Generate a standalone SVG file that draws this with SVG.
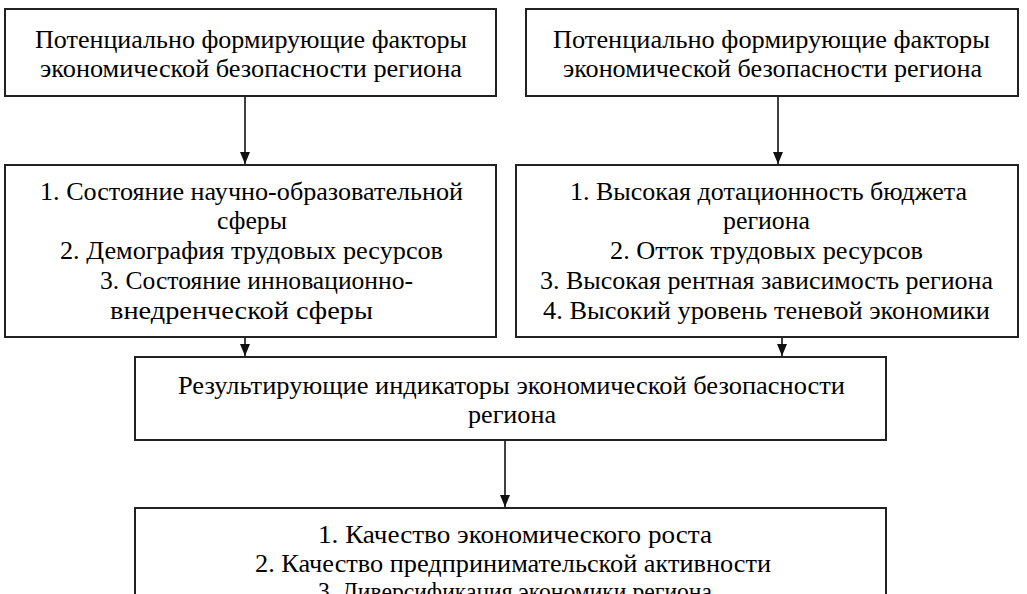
<svg xmlns="http://www.w3.org/2000/svg" width="1027" height="594" viewBox="0 0 1027 594">
<style>
.box{fill:#fff;stroke:#222;stroke-width:2}
.c{stroke:#111;stroke-width:1.6;fill:none}
</style>
<defs>
<marker id="ah" markerWidth="12" markerHeight="10" refX="12" refY="5" orient="auto" markerUnits="userSpaceOnUse" viewBox="0 0 12 10">
<path d="M0,0 L12,5 L0,10 Z" fill="#111"/>
</marker>
</defs>
<rect width="1027" height="594" fill="#fff"/>
<g id="n1">
<rect class="box" x="5" y="9" width="491" height="87"/>
<text font-family="Liberation Serif" font-size="25" x="35" y="48" textLength="432" lengthAdjust="spacingAndGlyphs">Потенциально формирующие факторы</text>
<text font-family="Liberation Serif" font-size="25" x="40" y="77" textLength="422" lengthAdjust="spacingAndGlyphs">экономической безопасности региона</text>
</g>
<g id="n2">
<rect class="box" x="526" y="9" width="492" height="87"/>
<text font-family="Liberation Serif" font-size="25" x="553" y="48" textLength="437" lengthAdjust="spacingAndGlyphs">Потенциально формирующие факторы</text>
<text font-family="Liberation Serif" font-size="25" x="563" y="77" textLength="419" lengthAdjust="spacingAndGlyphs">экономической безопасности региона</text>
</g>
<g id="n3">
<rect class="box" x="5" y="165" width="491" height="172"/>
<text font-family="Liberation Serif" font-size="25" x="40" y="200" textLength="423" lengthAdjust="spacingAndGlyphs">1. Состояние научно-образовательной</text>
<text font-family="Liberation Serif" font-size="25" x="217" y="229" textLength="70" lengthAdjust="spacingAndGlyphs">сферы</text>
<text font-family="Liberation Serif" font-size="25" x="60" y="259" textLength="383" lengthAdjust="spacingAndGlyphs">2. Демография трудовых ресурсов</text>
<text font-family="Liberation Serif" font-size="25" x="100" y="289" textLength="313" lengthAdjust="spacingAndGlyphs">3. Состояние инновационно-</text>
<text font-family="Liberation Serif" font-size="25" x="110" y="319" textLength="263" lengthAdjust="spacingAndGlyphs">внедренческой сферы</text>
</g>
<g id="n4">
<rect class="box" x="516" y="165" width="502" height="172"/>
<text font-family="Liberation Serif" font-size="25" x="570" y="200" textLength="397" lengthAdjust="spacingAndGlyphs">1. Высокая дотационность бюджета</text>
<text font-family="Liberation Serif" font-size="25" x="723" y="229" textLength="87" lengthAdjust="spacingAndGlyphs">региона</text>
<text font-family="Liberation Serif" font-size="25" x="610" y="259" textLength="313" lengthAdjust="spacingAndGlyphs">2. Отток трудовых ресурсов</text>
<text font-family="Liberation Serif" font-size="25" x="540" y="289" textLength="453" lengthAdjust="spacingAndGlyphs">3. Высокая рентная зависимость региона</text>
<text font-family="Liberation Serif" font-size="25" x="543" y="319" textLength="447" lengthAdjust="spacingAndGlyphs">4. Высокий уровень теневой экономики</text>
</g>
<g id="n5">
<rect class="box" x="135" y="357" width="751" height="83"/>
<text font-family="Liberation Serif" font-size="25" x="178" y="394" textLength="667" lengthAdjust="spacingAndGlyphs">Результирующие индикаторы экономической безопасности</text>
<text font-family="Liberation Serif" font-size="25" x="468" y="423" textLength="88" lengthAdjust="spacingAndGlyphs">региона</text>
</g>
<g id="n6">
<rect class="box" x="135" y="508" width="751" height="100"/>
<text font-family="Liberation Serif" font-size="25" x="318" y="543" textLength="394" lengthAdjust="spacingAndGlyphs">1. Качество экономического роста</text>
<text font-family="Liberation Serif" font-size="25" x="255" y="572" textLength="516" lengthAdjust="spacingAndGlyphs">2. Качество предпринимательской активности</text>
<text font-family="Liberation Serif" font-size="25" x="318" y="600" textLength="394" lengthAdjust="spacingAndGlyphs">3. Диверсификация экономики региона</text>
</g>
<g id="connectors">
<line class="c" x1="245" y1="97" x2="245" y2="164" marker-end="url(#ah)"/>
<line class="c" x1="778" y1="97" x2="778" y2="164" marker-end="url(#ah)"/>
<line class="c" x1="245" y1="338" x2="245" y2="356" marker-end="url(#ah)"/>
<line class="c" x1="782" y1="338" x2="782" y2="356" marker-end="url(#ah)"/>
<line class="c" x1="505" y1="441" x2="505" y2="507" marker-end="url(#ah)"/>
</g>
</svg>
